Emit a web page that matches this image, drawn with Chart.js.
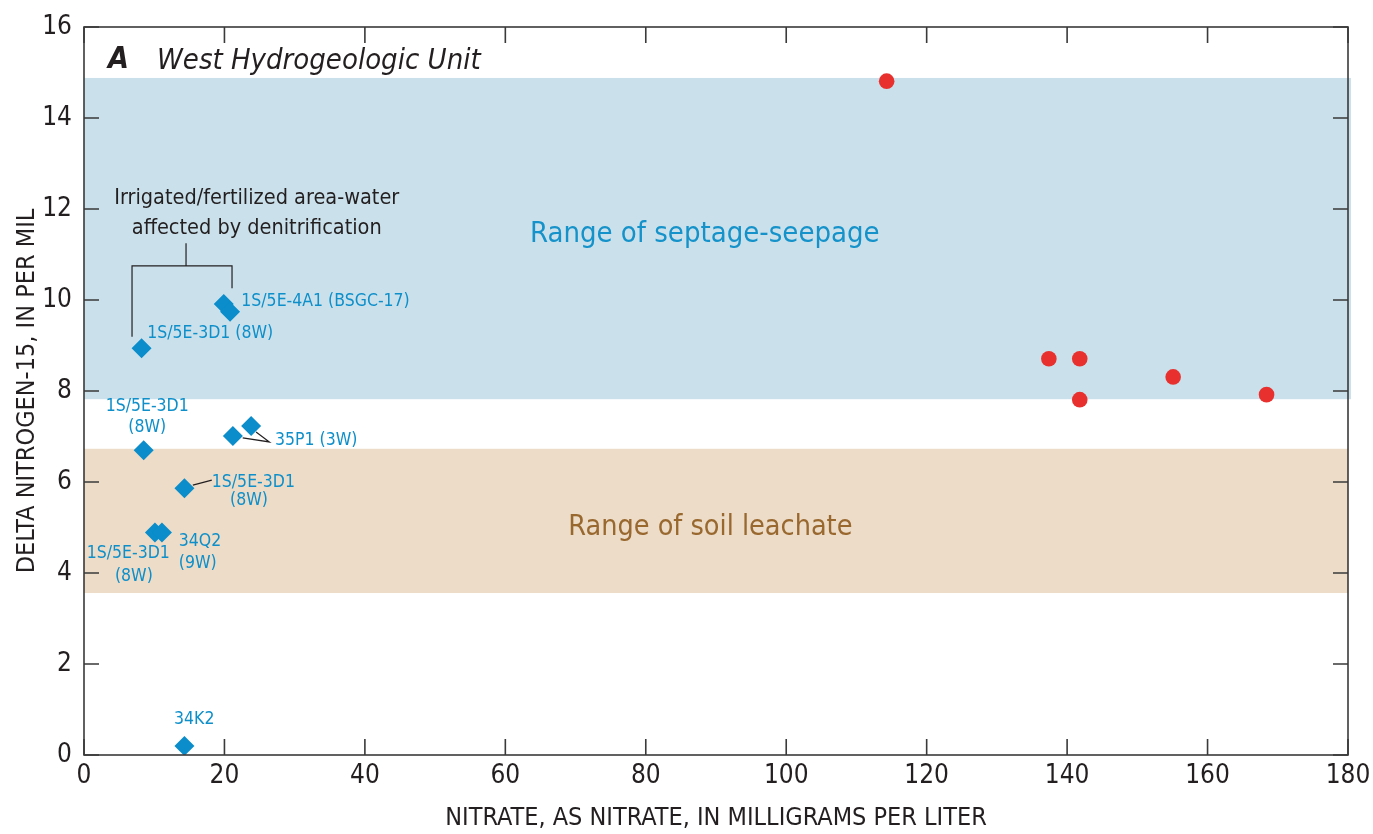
<!DOCTYPE html>
<html>
<head>
<meta charset="utf-8">
<script src="https://cdn.jsdelivr.net/npm/chart.js@4.4.1/dist/chart.umd.min.js"></script>
<style>
  html, body { margin: 0; padding: 0; background: #fff; }
  canvas { display: block; }
</style>
</head>
<body>
<canvas id="myChart" width="1373" height="834"></canvas>
<script>
// 硝酸塩濃度 (mg/L) と δ15N (‰)
var irrigatedNitrate = [8.2, 19.9, 20.8, 8.5, 21.2, 23.8, 14.3, 10.1, 11.1, 14.3];
var irrigatedDelta   = [8.94, 9.91, 9.74, 6.70, 7.01, 7.23, 5.86, 4.89, 4.89, 0.20];
var septicNitrate    = [114.3, 137.4, 141.8, 141.8, 155.1, 168.4];
var septicDelta      = [14.81, 8.71, 8.71, 7.81, 8.31, 7.92];

// 範囲の帯 (δ15N)
var septageRange = [7.82, 14.88];
var soilRange    = [3.56, 6.73];

// 目盛り
var xTicks = [0, 20, 40, 60, 80, 100, 120, 140, 160, 180];
var yTicks = [0, 2, 4, 6, 8, 10, 12, 14, 16];

var FONT = '"Liberation Sans Narrow", "DejaVu Sans Condensed", "Roboto", sans-serif';
var INK = '#231f20';
var BLUE = '#0e8fca';

function toPoints(xs, ys) {
    return xs.map(function(x, i) { return { x: x, y: ys[i] }; });
}

// 注記 (データ座標で指定)
var notes = [
    { x: 24.6, y: 12.24, text: 'Irrigated/fertilized area-water', align: 'center', color: INK, size: 21.5 },
    { x: 24.6, y: 11.58, text: 'affected by denitrification', align: 'center', color: INK, size: 21.5 },
    { x: 22.4, y: 9.96, text: '1S/5E-4A1 (BSGC-17)', align: 'left', color: BLUE, size: 17.5 },
    { x: 9.0, y: 9.27, text: '1S/5E-3D1 (8W)', align: 'left', color: BLUE, size: 17.5 },
    { x: 9.0, y: 7.65, text: '1S/5E-3D1', align: 'center', color: BLUE, size: 17.5 },
    { x: 9.0, y: 7.19, text: '(8W)', align: 'center', color: BLUE, size: 17.5 },
    { x: 27.2, y: 6.92, text: '35P1 (3W)', align: 'left', color: BLUE, size: 17.5 },
    { x: 18.2, y: 6.0, text: '1S/5E-3D1', align: 'left', color: BLUE, size: 17.5 },
    { x: 23.5, y: 5.6, text: '(8W)', align: 'center', color: BLUE, size: 17.5 },
    { x: 13.5, y: 4.70, text: '34Q2', align: 'left', color: BLUE, size: 17.5 },
    { x: 13.5, y: 4.20, text: '(9W)', align: 'left', color: BLUE, size: 17.5 },
    { x: 6.3, y: 4.44, text: '1S/5E-3D1', align: 'center', color: BLUE, size: 17.5 },
    { x: 7.1, y: 3.93, text: '(8W)', align: 'center', color: BLUE, size: 17.5 },
    { x: 15.7, y: 0.79, text: '34K2', align: 'center', color: BLUE, size: 17.5 },
    { x: 88.4, y: 11.43, text: 'Range of septage-seepage', align: 'center', color: '#1592c9', size: 29 },
    { x: 89.2, y: 4.99, text: 'Range of soil leachate', align: 'center', color: '#99682f', size: 28.5 }
];

// 引き出し線
var leaders = [
    [[14.53, 11.25], [14.53, 10.75]],
    [[6.84, 9.19], [6.84, 10.75], [21.08, 10.75], [21.08, 10.26]],
    [[22.6, 6.97], [26.4, 6.88], [24.5, 7.10]],
    [[15.5, 5.93], [18.2, 6.04]]
];

var overlay = {
    id: 'overlay',
    beforeDatasetsDraw: function(chart) {
        var ctx = chart.ctx, xs = chart.scales.x, ys = chart.scales.y, a = chart.chartArea;
        ctx.save();
        ctx.fillStyle = '#cae1eb';
        var t = ys.getPixelForValue(septageRange[1]), b = ys.getPixelForValue(septageRange[0]);
        ctx.fillRect(a.left, t, a.right - a.left + 3, b - t);
        ctx.fillStyle = '#ecdcc8';
        t = ys.getPixelForValue(soilRange[1]); b = ys.getPixelForValue(soilRange[0]);
        ctx.fillRect(a.left, t, a.right - a.left, b - t);
        ctx.restore();
    },
    afterDatasetsDraw: function(chart) {
        var ctx = chart.ctx, xs = chart.scales.x, ys = chart.scales.y, a = chart.chartArea;
        ctx.save();
        // 枠と内向きの目盛り
        ctx.strokeStyle = '#3a3a3a';
        ctx.lineWidth = 1.6;
        ctx.strokeRect(a.left, a.top, a.right - a.left, a.bottom - a.top);
        ctx.beginPath();
        xTicks.forEach(function(v) {
            var x = xs.getPixelForValue(v);
            ctx.moveTo(x, a.bottom); ctx.lineTo(x, a.bottom - 16);
            ctx.moveTo(x, a.top); ctx.lineTo(x, a.top + 16);
        });
        yTicks.forEach(function(v) {
            var y = ys.getPixelForValue(v);
            ctx.moveTo(a.left, y); ctx.lineTo(a.left + 15, y);
            ctx.moveTo(a.right, y); ctx.lineTo(a.right - 15, y);
        });
        ctx.stroke();

        // 引き出し線
        ctx.strokeStyle = '#231f20';
        ctx.lineWidth = 1.2;
        leaders.forEach(function(line) {
            ctx.beginPath();
            line.forEach(function(p, i) {
                var x = xs.getPixelForValue(p[0]), y = ys.getPixelForValue(p[1]);
                if (i === 0) ctx.moveTo(x, y); else ctx.lineTo(x, y);
            });
            ctx.stroke();
        });

        // 注記テキスト
        ctx.textBaseline = 'middle';
        notes.forEach(function(n) {
            ctx.font = n.size + 'px ' + FONT;
            ctx.fillStyle = n.color;
            ctx.textAlign = n.align;
            ctx.fillText(n.text, xs.getPixelForValue(n.x), ys.getPixelForValue(n.y));
        });

        // パネル見出し
        ctx.fillStyle = INK;
        ctx.textAlign = 'left';
        ctx.font = 'italic bold 30px ' + FONT;
        ctx.fillText('A', xs.getPixelForValue(3.4), ys.getPixelForValue(15.27));
        ctx.font = 'italic 29px ' + FONT;
        ctx.fillText('West Hydrogeologic Unit', xs.getPixelForValue(10.4), ys.getPixelForValue(15.24));
        ctx.restore();
    }
};

var ctx = document.getElementById('myChart');

var myChart = new Chart(ctx, {
    type: 'scatter',
    data: {
        datasets: [{
            label: 'irrigated',
            data: toPoints(irrigatedNitrate, irrigatedDelta),
            pointStyle: 'rectRot',
            pointRadius: 10,
            pointHoverRadius: 10,
            backgroundColor: '#0a8dca',
            borderWidth: 0
        }, {
            label: 'septic',
            data: toPoints(septicNitrate, septicDelta),
            pointStyle: 'circle',
            pointRadius: 7.8,
            pointHoverRadius: 7.8,
            backgroundColor: '#e8312f',
            borderWidth: 0
        }]
    },
    options: {
        responsive: false,
        animation: false,
        events: [],
        layout: {
            padding: { top: 27, right: 0, left: 0, bottom: 0 }
        },
        plugins: {
            legend: { display: false },
            tooltip: { enabled: false }
        },
        scales: {
            x: {
                type: 'linear',
                min: 0,
                max: 180,
                afterFit: function(scale) {
                    scale.height = 79;
                    scale.paddingLeft = 0;
                    scale.paddingRight = 25;
                },
                afterBuildTicks: function(scale) {
                    scale.ticks = xTicks.map(function(v) { return { value: v }; });
                },
                grid: { display: false, drawTicks: false },
                border: { display: false },
                ticks: {
                    padding: 6,
                    color: INK,
                    font: { family: FONT, size: 26 },
                    maxRotation: 0
                },
                title: {
                    display: true,
                    text: 'NITRATE, AS NITRATE, IN MILLIGRAMS PER LITER',
                    color: INK,
                    font: { family: FONT, size: 25 },
                    padding: { top: 1, bottom: 1 }
                }
            },
            y: {
                type: 'linear',
                min: 0,
                max: 16,
                afterFit: function(scale) {
                    scale.width = 84;
                    scale.paddingTop = 0;
                    scale.paddingBottom = 0;
                },
                afterBuildTicks: function(scale) {
                    scale.ticks = yTicks.map(function(v) { return { value: v }; });
                },
                grid: { display: false, drawTicks: false },
                border: { display: false },
                ticks: {
                    padding: 12,
                    color: INK,
                    font: { family: FONT, size: 26 }
                },
                title: {
                    display: true,
                    text: 'DELTA NITROGEN-15, IN PER MIL',
                    color: INK,
                    font: { family: FONT, size: 25 },
                    padding: { top: 12, bottom: 12 }
                }
            }
        }
    },
    plugins: [overlay]
});
</script>
</body>
</html>
